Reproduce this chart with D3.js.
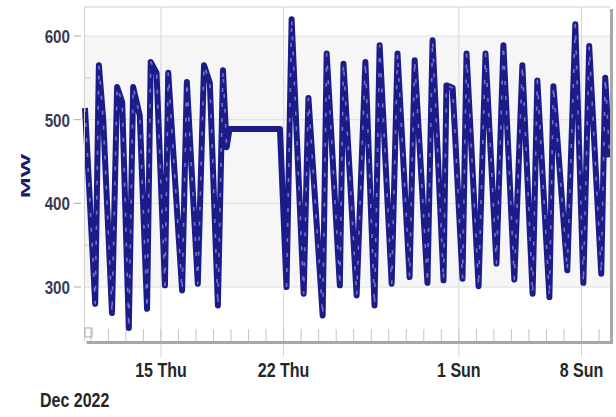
<!DOCTYPE html>
<html>
<head>
<meta charset="utf-8">
<script src="https://cdn.jsdelivr.net/npm/d3@7/dist/d3.min.js"></script>
<style>
  body { margin: 0; background: #fff; }
  text { font-family: "Liberation Sans", Arial, sans-serif; font-weight: bold; }
</style>
</head>
<body>
<div id="chart"></div>
<script>
'use strict';

// load readings (MW): daily peaks, troughs and a few shoulders
const times = [
  '2022-12-10 16:00', '2022-12-11 06:00', '2022-12-11 11:00', '2022-12-11 17:00',
  '2022-12-12 05:00', '2022-12-12 12:00', '2022-12-12 19:00', '2022-12-13 04:00',
  '2022-12-13 10:00', '2022-12-13 19:00', '2022-12-14 05:00', '2022-12-14 10:00',
  '2022-12-14 18:00', '2022-12-15 05:30', '2022-12-15 10:00', '2022-12-16 05:00',
  '2022-12-16 11:30', '2022-12-17 02:30', '2022-12-17 11:00', '2022-12-17 19:00',
  '2022-12-18 06:00', '2022-12-18 13:00', '2022-12-18 18:00', '2022-12-18 22:00',
  '2022-12-21 19:00', '2022-12-22 04:00', '2022-12-22 11:00', '2022-12-23 03:30',
  '2022-12-23 10:00', '2022-12-24 05:30', '2022-12-24 11:00', '2022-12-25 05:00',
  '2022-12-25 10:00', '2022-12-26 04:00', '2022-12-26 16:00', '2022-12-27 04:30',
  '2022-12-27 11:30', '2022-12-28 04:00', '2022-12-28 12:00', '2022-12-29 04:30',
  '2022-12-29 11:30', '2022-12-30 05:00', '2022-12-30 12:00', '2022-12-31 03:00',
  '2022-12-31 07:00', '2022-12-31 15:30', '2023-01-01 05:00', '2023-01-01 10:30',
  '2023-01-02 03:00', '2023-01-02 12:30', '2023-01-03 03:30', '2023-01-03 13:00',
  '2023-01-04 04:00', '2023-01-04 15:00', '2023-01-05 05:00', '2023-01-05 11:30',
  '2023-01-06 04:00', '2023-01-06 09:30', '2023-01-07 04:30', '2023-01-07 15:30',
  '2023-01-08 02:30', '2023-01-08 10:30', '2023-01-09 03:00', '2023-01-09 08:30',
  '2023-01-09 14:30'
];
const mw = [
  514, 280, 565, 500,
  269, 539, 521, 251,
  539, 505, 274, 569,
  556, 302, 556, 296,
  545, 304, 565, 544,
  278, 559, 467, 489,
  489, 300, 620, 292,
  526, 266, 579, 302,
  567, 290, 569, 278,
  589, 304, 579, 312,
  571, 305, 595, 308,
  541, 538, 310, 579,
  301, 579, 328, 589,
  309, 565, 292, 547,
  288, 540, 320, 614,
  305, 588, 316, 550,
  455
];

const majorTicks = ['2022-12-15', '2022-12-22', '2023-01-01', '2023-01-08'];
const yTicks = [300, 400, 500, 600];
const yMinorTicks = [350, 450, 550];
const axisTitle = 'MW';
const periodLabel = 'Dec 2022';

function makeChart() {
  var width = 616;
  var height = 417;
  var left = 84.5, right = 610, top = 7, bottom = 341;
  var narrow = ' scale(0.8,1)';

  var parseTime = d3.timeParse('%Y-%m-%d %H:%M');
  var parseDay = d3.timeParse('%Y-%m-%d');
  var data = times.map(function(t, i) { return { time: parseTime(t), value: mw[i] }; });

  var x = d3.scaleTime()
            .domain([parseTime('2022-12-10 15:20'), parseTime('2023-01-09 15:00')])
            .range([left, right]);
  var y = d3.scaleLinear()
            .domain([235.5, 634.7])
            .range([bottom, top]);

  var svg = d3.select('#chart')
              .append('svg')
              .attr('width', width)
              .attr('height', height);

  // plot background with the shaded band
  svg.append('rect')
     .attr('x', left).attr('y', top)
     .attr('width', right - left).attr('height', bottom - top)
     .attr('fill', '#fff');
  svg.append('rect')
     .attr('x', left).attr('y', y(600))
     .attr('width', right - left).attr('height', y(300) - y(600))
     .attr('fill', '#f6f6f6');

  // grid
  svg.append('g')
     .selectAll('line')
     .data(yTicks)
     .enter()
     .append('line')
     .attr('x1', left).attr('x2', right)
     .attr('y1', function(d) { return y(d); })
     .attr('y2', function(d) { return y(d); })
     .attr('stroke', '#dedede');

  var majors = majorTicks.map(parseDay);
  svg.append('g')
     .selectAll('line')
     .data(majors)
     .enter()
     .append('line')
     .attr('x1', function(d) { return x(d); })
     .attr('x2', function(d) { return x(d); })
     .attr('y1', top).attr('y2', bottom + 16)
     .attr('stroke', '#d8d8d8');

  // daily minor ticks along the bottom
  var days = d3.timeDay.range(x.domain()[0], x.domain()[1]);
  svg.append('g')
     .selectAll('line')
     .data(days)
     .enter()
     .append('line')
     .attr('x1', function(d) { return x(d); })
     .attr('x2', function(d) { return x(d); })
     .attr('y1', bottom - 12).attr('y2', bottom)
     .attr('stroke', '#c4c4c4');

  // y ticks
  svg.append('g')
     .selectAll('line')
     .data(yTicks)
     .enter()
     .append('line')
     .attr('x1', 74).attr('x2', 81)
     .attr('y1', function(d) { return y(d); })
     .attr('y2', function(d) { return y(d); })
     .attr('stroke', '#aaa');
  svg.append('g')
     .selectAll('line')
     .data(yMinorTicks)
     .enter()
     .append('line')
     .attr('x1', left).attr('x2', left + 6)
     .attr('y1', function(d) { return y(d); })
     .attr('y2', function(d) { return y(d); })
     .attr('stroke', '#c4c4c4');

  svg.append('g')
     .selectAll('text')
     .data(yTicks)
     .enter()
     .append('text')
     .attr('transform', function(d) { return 'translate(70,' + y(d) + ')' + narrow; })
     .attr('dy', '0.36em')
     .attr('text-anchor', 'end')
     .style('font-size', '19px')
     .attr('fill', '#3a3a55')
     .text(function(d) { return d; });

  svg.append('g')
     .selectAll('text')
     .data(majors)
     .enter()
     .append('text')
     .attr('transform', function(d) { return 'translate(' + x(d) + ',370)' + narrow; })
     .attr('dy', '0.36em')
     .attr('text-anchor', 'middle')
     .style('font-size', '20px')
     .attr('fill', '#262626')
     .text(d3.timeFormat('%-d %a'));

  svg.append('text')
     .attr('transform', 'translate(40,400)' + narrow)
     .attr('dy', '0.36em')
     .style('font-size', '20px')
     .attr('fill', '#262626')
     .text(periodLabel);

  svg.append('text')
     .attr('transform', 'translate(30,176) rotate(-90) scale(2.1,1)')
     .attr('text-anchor', 'middle')
     .style('font-size', '12px')
     .attr('fill', '#1c1c66')
     .text(axisTitle);

  // the series: heavy navy stroke with a lighter broken inner trace
  var line = d3.line()
               .x(function(d) { return x(d.time); })
               .y(function(d) { return y(d.value); });

  svg.append('path')
     .datum(data)
     .attr('d', line)
     .attr('fill', 'none')
     .attr('stroke', '#1b1b8a')
     .attr('stroke-width', 6)
     .attr('stroke-linejoin', 'round');

  svg.append('path')
     .datum(data)
     .attr('d', line.defined(function(d, i) { return i < 23 || i > 24; }))
     .attr('fill', 'none')
     .attr('stroke', '#7474c0')
     .attr('stroke-width', 1.6)
     .attr('stroke-dasharray', '4,11')
     .attr('stroke-linejoin', 'round');

  // frame: light top/left, heavier shadowed bottom/right
  svg.append('path')
     .attr('d', 'M' + left + ',' + bottom + 'V' + top + 'H' + right)
     .attr('fill', 'none')
     .attr('stroke', '#cfcfcf');
  svg.append('path')
     .attr('d', 'M' + (left + 2) + ',' + (bottom + 1.5) + 'H' + (right + 1.5) + 'V' + (top + 2))
     .attr('fill', 'none')
     .attr('stroke', '#a8a8a8')
     .attr('stroke-width', 3);

  svg.append('rect')
     .attr('x', left + 0.5).attr('y', bottom - 13)
     .attr('width', 7).attr('height', 9)
     .attr('fill', 'none')
     .attr('stroke', '#aaa');
}

makeChart();
</script>
</body>
</html>
